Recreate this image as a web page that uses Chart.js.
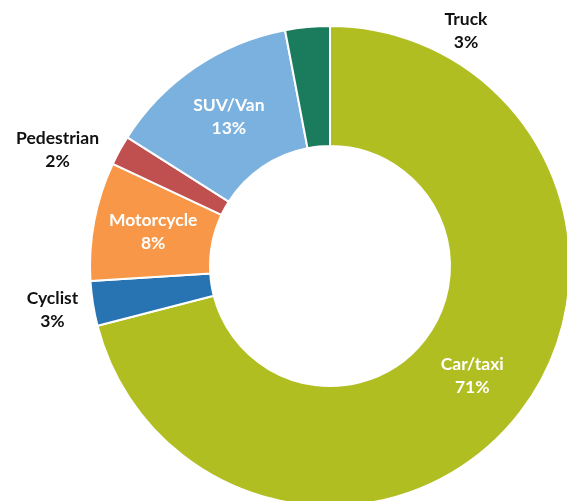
<!DOCTYPE html>
<html>
<head>
<meta charset="utf-8">
<script src="https://cdn.jsdelivr.net/npm/chart.js@4/dist/chart.umd.min.js"></script>
<style>
  html, body { margin: 0; padding: 0; background: #fff; overflow: hidden; width: 567px; height: 501px; }
  #modeChart { position: absolute; left: 0; top: 0; }
</style>
</head>
<body>
<canvas id="modeChart" width="582" height="522"></canvas>
<script>
const categories = ['Car/taxi', 'Cyclist', 'Motorcycle', 'Pedestrian', 'SUV/Van', 'Truck'];
const shares = [71, 3, 8, 2, 13, 3];
const colors = ['#b1be22', '#2874b2', '#f79747', '#c0504f', '#7bb1de', '#1a7c5d'];

// labels that sit outside the ring: angle (deg clockwise from top) and distance from centre
const outside = {
    'Truck': { angle: 30, r: 272 },
    'Pedestrian': { angle: 293, r: 296 },
    'Cyclist': { angle: 261, r: 281 }
};

const sliceLabels = {
    id: 'sliceLabels',
    afterDatasetsDraw(chart) {
        const c = chart.ctx;
        const meta = chart.getDatasetMeta(0);
        c.save();
        c.font = 'bold 17.5px Lato, "Open Sans", sans-serif';
        c.textAlign = 'center';
        c.textBaseline = 'middle';
        meta.data.forEach((arc, i) => {
            const name = categories[i];
            let x, y;
            if (outside[name]) {
                const a = outside[name].angle * Math.PI / 180;
                x = arc.x + Math.sin(a) * outside[name].r;
                y = arc.y - Math.cos(a) * outside[name].r;
                c.fillStyle = '#111';
            } else {
                const p = arc.tooltipPosition();
                x = p.x; y = p.y;
                c.fillStyle = '#fff';
            }
            c.fillText(name, x, y - 11.5);
            c.fillText(shares[i] + '%', x, y + 11.5);
        });
        c.restore();
    }
};

new Chart(document.getElementById('modeChart').getContext('2d'), {
    type: 'doughnut',
    data: {
        labels: categories,
        datasets: [{
            data: shares,
            backgroundColor: colors,
            borderColor: '#fff',
            borderWidth: 2
        }]
    },
    options: {
        responsive: false,
        animation: false,
        cutout: '50%',
        layout: { padding: { left: 89, top: 25, right: 11, bottom: 15 } },
        plugins: {
            legend: { display: false },
            tooltip: { enabled: false }
        }
    },
    plugins: [sliceLabels]
});
</script>
</body>
</html>
